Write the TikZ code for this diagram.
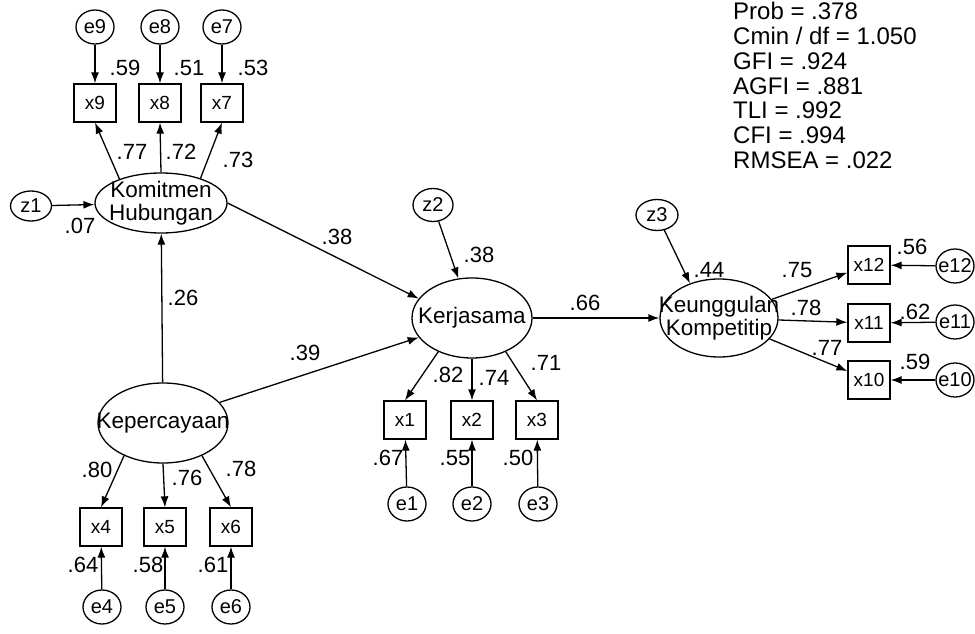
\documentclass[tikz,border=0pt]{standalone}
\usepackage{fontspec}
\setmainfont{Liberation Sans}
\usetikzlibrary{arrows.meta,shapes.geometric}

\tikzset{
	varname/.style={font=\fontsize{22.5}{23}\selectfont, align=center, inner sep=0pt},
	errname/.style={font=\fontsize{20}{20}\selectfont, inner sep=0pt},
	latent/.style={draw, ellipse, line width=1.3pt, label={[varname]center:#1}},
	errc/.style={draw, ellipse, line width=1.3pt, minimum width=38pt, minimum height=34pt, label={[errname]center:#1}},
	obsbox/.style={draw, rectangle, line width=1.3pt, minimum width=42pt, minimum height=38pt, inner sep=0pt, font=\fontsize{19}{19}\selectfont},
	coef/.style={font=\fontsize{22}{22}\selectfont, inner sep=0pt},
	fitline/.style={anchor=base west, font=\fontsize{24}{24}\selectfont, inner sep=0pt},
	arr/.style={line width=1.3pt, -{Latex[length=11pt,width=8pt]}}
}

\begin{document}
\begin{tikzpicture}[x=1pt, y=1pt]
		%%%%% START %%%%%
		\useasboundingbox (0, 0) rectangle (975, 633);
		
		% fit indices
		\foreach \txt [count=\i] in {Prob = .378, Cmin / df = 1.050, GFI = .924, AGFI = .881, TLI = .992, CFI = .994, RMSEA = .022}
			\node[fitline] (fit\i) at (733, {613-24.7*(\i-1)}) {\txt};
		
		% latent variables
		\node[latent={Komitmen\\Hubungan}, minimum width=132pt, minimum height=60pt] (kh) at (161, 430) {};
		\node[latent={Kepercayaan}, minimum width=130pt, minimum height=80pt] (kp) at (163, 210) {};
		\node[latent={Kerjasama}, minimum width=120pt, minimum height=80pt] (kj) at (472, 315) {};
		\node[latent={Keunggulan\\Kompetitip}, minimum width=118pt, minimum height=78pt] (kk) at (719, 315) {};
		
		% disturbances
		\node[errc={z1}, minimum width=41pt, minimum height=30pt] (z1) at (31, 427) {};
		\node[errc={z2}, minimum width=40pt, minimum height=33pt] (z2) at (433, 428) {};
		\node[errc={z3}, minimum width=42pt, minimum height=31pt] (z3) at (657, 418) {};
		
		% Komitmen Hubungan indicators
		\node[obsbox] (x9) at (95, 530) {x9};
		\node[obsbox] (x8) at (160, 530) {x8};
		\node[obsbox] (x7) at (222, 530) {x7};
		\node[errc={e9}] (e9) at (95, 606) {};
		\node[errc={e8}] (e8) at (160, 606) {};
		\node[errc={e7}] (e7) at (222, 606) {};
		
		% Kepercayaan indicators
		\node[obsbox] (x4) at (101, 106) {x4};
		\node[obsbox] (x5) at (165, 106) {x5};
		\node[obsbox] (x6) at (231, 106) {x6};
		\node[errc={e4}] (e4) at (102, 26) {};
		\node[errc={e5}] (e5) at (165, 26) {};
		\node[errc={e6}] (e6) at (231, 26) {};
		
		% Kerjasama indicators
		\node[obsbox] (x1) at (405, 213) {x1};
		\node[obsbox] (x2) at (472, 213) {x2};
		\node[obsbox] (x3) at (537, 213) {x3};
		\node[errc={e1}] (e1) at (407, 129) {};
		\node[errc={e2}] (e2) at (472, 129) {};
		\node[errc={e3}] (e3) at (538, 129) {};
		
		% Keunggulan Kompetitip indicators
		\node[obsbox] (x12) at (869, 368) {x12};
		\node[obsbox] (x11) at (869, 310) {x11};
		\node[obsbox] (x10) at (869, 253) {x10};
		\node[errc={e12}] (e12) at (955, 367) {};
		\node[errc={e11}] (e11) at (955, 311) {};
		\node[errc={e10}] (e10) at (955, 253) {};
		
		% structural paths
		\draw[arr] (z1) -- (kh);
		\draw[arr] (kp) -- (kh);
		\draw[arr] (kh.east) -- (kj.160);
		\draw[arr] (kp.20) -- (kj.200);
		\draw[arr] (z2) -- (kj);
		\draw[arr] (kj) -- (kk);
		\draw[arr] (z3) -- (kk.130);
		
		% loadings
		\draw[arr] (kh.150) -- (x9.south);
		\draw[arr] (kh.north) -- (x8.south);
		\draw[arr] (kh.32) -- (x7.south);
		\draw[arr] (kp.-140) -- (x4.north);
		\draw[arr] (kp.south) -- (x5.north);
		\draw[arr] (kp.-40) -- (x6.north);
		\draw[arr] (kj.-135) -- (x1.north);
		\draw[arr] (kj.south) -- (x2.north);
		\draw[arr] (kj.-45) -- (x3.north);
		\foreach \x in {12,11,10}
			\draw[arr] (kk) -- (x\x);
		
		% measurement errors
		\foreach \x in {1,...,12}
			\draw[arr] (e\x) -- (x\x);
		
		% estimates
		\node[coef] (rx9) at (125, 565) {.59};
		\node[coef] (rx8) at (189, 565) {.51};
		\node[coef] (rx7) at (253, 565) {.53};
		\node[coef] (lx9) at (132, 481) {.77};
		\node[coef] (lx8) at (181, 481) {.72};
		\node[coef] (lx7) at (238, 473) {.73};
		\node[coef] (rkh) at (80, 407) {.07};
		\node[coef] (bkpkh) at (183, 335) {.26};
		\node[coef] (bkhkj) at (337, 396) {.38};
		\node[coef] (bkpkj) at (305, 280) {.39};
		\node[coef] (rkj) at (479, 378) {.38};
		\node[coef] (bkjkk) at (585, 330) {.66};
		\node[coef] (lx1) at (448, 258) {.82};
		\node[coef] (lx2) at (494, 255) {.74};
		\node[coef] (lx3) at (546, 270) {.71};
		\node[coef] (rx1) at (388, 175) {.67};
		\node[coef] (rx2) at (455, 175) {.55};
		\node[coef] (rx3) at (518, 175) {.50};
		\node[coef] (lx4) at (97, 163) {.80};
		\node[coef] (lx5) at (187, 155) {.76};
		\node[coef] (lx6) at (241, 164) {.78};
		\node[coef] (rx4) at (83, 68) {.64};
		\node[coef] (rx5) at (148, 68) {.58};
		\node[coef] (rx6) at (213, 68) {.61};
		\node[coef] (rkk) at (709, 363) {.44};
		\node[coef] (lx12) at (797, 363) {.75};
		\node[coef] (lx11) at (806, 325) {.78};
		\node[coef] (lx10) at (827, 285) {.77};
		\node[coef] (rx12) at (912, 386) {.56};
		\node[coef] (rx11) at (915, 321) {.62};
		\node[coef] (rx10) at (915, 271) {.59};
		
		%%%%% END %%%%%
\end{tikzpicture}
\end{document}
